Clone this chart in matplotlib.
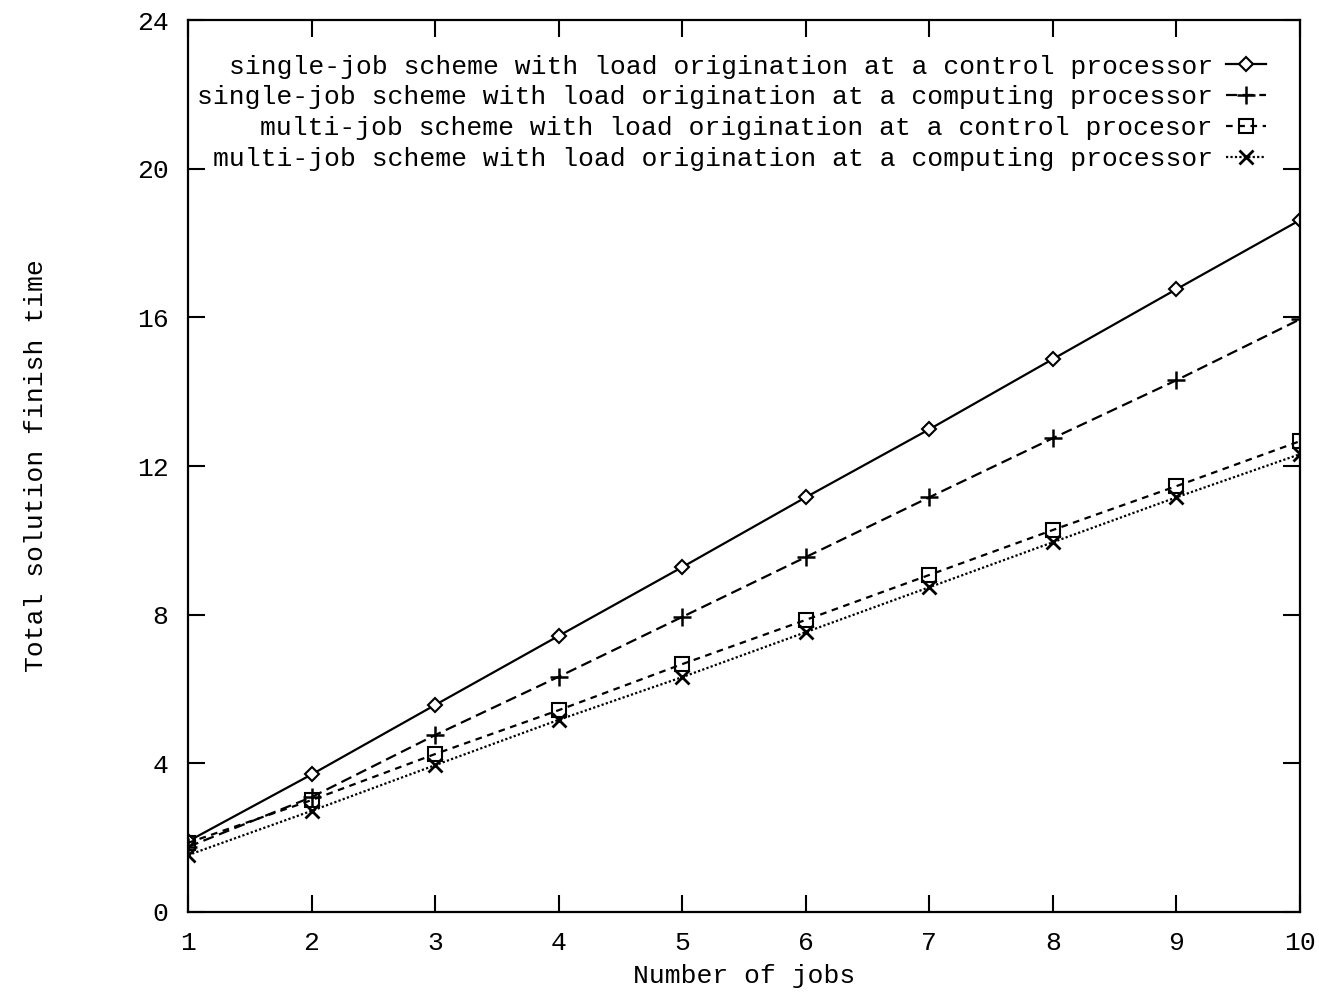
import matplotlib.pyplot as plt

# Data
jobs = [1, 2, 3, 4, 5, 6, 7, 8, 9, 10]
single_control = [1.9, 3.7, 5.57, 7.43, 9.28, 11.16, 12.99, 14.88, 16.76, 18.62]
single_computing = [1.75, 3.09, 4.76, 6.33, 7.94, 9.55, 11.16, 12.75, 14.31, 15.95]
multi_control = [1.86, 3.01, 4.25, 5.43, 6.67, 7.86, 9.07, 10.28, 11.46, 12.67]
multi_computing = [1.53, 2.72, 3.95, 5.17, 6.32, 7.53, 8.74, 9.95, 11.16, 12.32]

labels = [
    "single-job scheme with load origination at a control processor",
    "single-job scheme with load origination at a computing processor",
    "multi-job scheme with load origination at a control procesor",
    "multi-job scheme with load origination at a computing processor",
]

plt.rcParams['font.family'] = ['Liberation Mono', 'DejaVu Sans Mono']

fig = plt.figure(figsize=(13.19, 9.93), dpi=100)
ax = fig.add_axes([0.1425, 0.0816, 0.843, 0.898])

lw = 1.6
ax.plot(jobs, single_control, color='black', lw=lw, ls='-', marker='D', ms=7,
        mfc='white', mec='black', mew=1.5, label=labels[0])
ax.plot(jobs, single_computing, color='black', lw=lw, ls=(0, (5, 2.5)), marker='+', ms=13,
        mew=1.8, label=labels[1])
ax.plot(jobs, multi_control, color='black', lw=lw, ls=(0, (3, 2.5)), marker='s', ms=10,
        mfc='none', mec='black', mew=1.5, label=labels[2])
ax.plot(jobs, multi_computing, color='black', lw=lw, ls=(0, (1, 1)), marker='x', ms=10,
        mew=2, label=labels[3])

ax.set_xlim(1, 10)
ax.set_ylim(0, 24)
ax.set_xticks(jobs)
ax.set_yticks([0, 4, 8, 12, 16, 20, 24])
ax.tick_params(direction='in', length=12, width=1.5, top=True, right=True,
               labelsize=19, pad=14)
for sp in ax.spines.values():
    sp.set_linewidth(1.6)

ax.set_xlabel("Number of jobs", fontsize=19, labelpad=6)
ax.set_ylabel("Total solution finish time", fontsize=19, labelpad=64)

ax.legend(loc='upper right', frameon=False, markerfirst=False, fontsize=19,
          handlelength=1.5, labelspacing=0.26, borderaxespad=0.9, handletextpad=0.5)

fig.savefig("out.png", dpi=100, facecolor='white')
